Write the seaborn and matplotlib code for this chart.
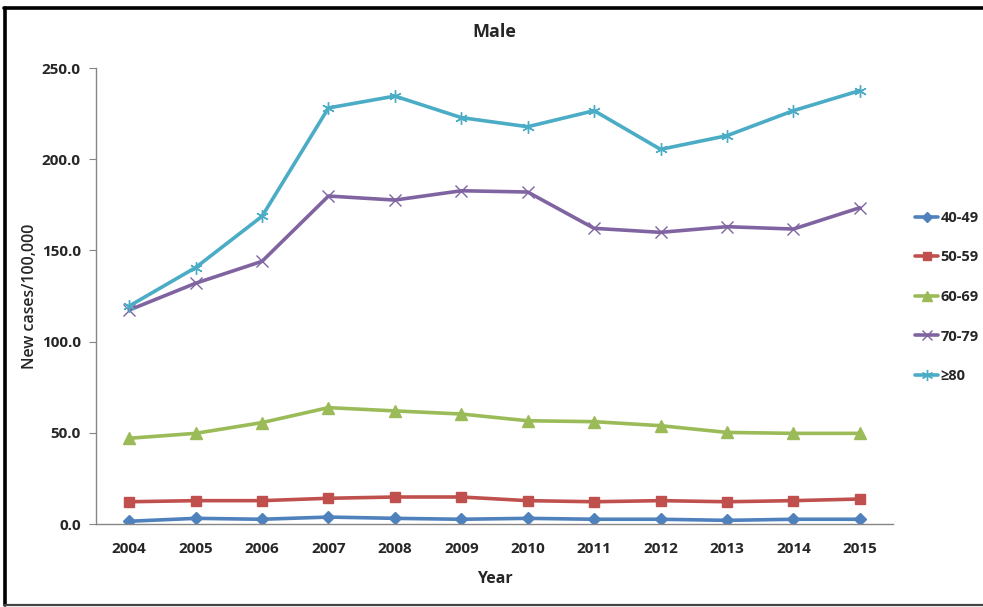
import matplotlib
matplotlib.use("Agg")
import matplotlib.pyplot as plt
import seaborn as sns
import pandas as pd
from matplotlib.lines import Line2D

years = [2004, 2005, 2006, 2007, 2008, 2009, 2010, 2011, 2012, 2013, 2014, 2015]
age_40_49 = [1.5, 3.1, 2.6, 3.8, 3.1, 2.6, 3.1, 2.6, 2.6, 2.0, 2.6, 2.6]
age_50_59 = [12.2, 12.8, 12.8, 14.1, 14.8, 14.8, 12.8, 12.2, 12.8, 12.2, 12.8, 13.7]
age_60_69 = [47.0, 49.7, 55.6, 63.8, 62.0, 60.3, 56.6, 56.1, 53.9, 50.2, 49.7, 49.7]
age_70_79 = [117.3, 132.0, 144.0, 179.8, 177.6, 182.7, 182.0, 162.1, 159.9, 163.0, 161.7, 173.4]
age_80_plus = [119.5, 140.6, 168.7, 228.1, 234.6, 222.8, 217.8, 226.6, 205.4, 212.9, 226.6, 237.6]

groups = ["40-49", "50-59", "60-69", "70-79", "≥80"]
series = [age_40_49, age_50_59, age_60_69, age_70_79, age_80_plus]
yticks = [0, 50, 100, 150, 200, 250]

colors = {"40-49": "#4F81BD", "50-59": "#C0504D", "60-69": "#9BBB59",
          "70-79": "#8064A2", "≥80": "#4BACC6"}
markers = {"40-49": "D", "50-59": "s", "60-69": "^", "70-79": "x", "≥80": (6, 2, 0)}
msizes = {"40-49": 6, "50-59": 7, "60-69": 8, "70-79": 8, "≥80": 9}

rows = []
for g, vals in zip(groups, series):
    for i, (yr, v) in enumerate(zip(years, vals)):
        rows.append({"pos": i, "year": yr, "group": g, "value": v})
df = pd.DataFrame(rows)

sns.set_style("white")
fam = ["Open Sans", "DejaVu Sans"]
plt.rcParams["font.family"] = fam

fig = plt.figure(figsize=(9.83, 6.07), dpi=100)
ax = fig.add_axes([96 / 983, 1 - 524 / 607, (893 - 96) / 983, (524 - 68) / 607])

for g in groups:
    sub = df[df["group"] == g]
    sns.lineplot(data=sub, x="pos", y="value", ax=ax, color=colors[g],
                 marker=markers[g], markersize=msizes[g], linewidth=2.6,
                 markeredgecolor=colors[g], markeredgewidth=1.0,
                 legend=False)

ax.set_xlim(-0.5, len(years) - 0.5)
ax.set_ylim(0, 250)
ax.set_xticks(range(len(years)))
ax.set_xticklabels([str(y) for y in years], fontsize=11, fontweight="bold")
ax.set_yticks(yticks)
ax.set_yticklabels([f"{v:.1f}" for v in yticks], fontsize=11, fontweight="bold")
ax.tick_params(axis="y", length=5, color="#868686", left=True, pad=6)
ax.tick_params(axis="x", length=0, pad=13)

for s in ["top", "right"]:
    ax.spines[s].set_visible(False)
for s in ["left", "bottom"]:
    ax.spines[s].set_color("#868686")
    ax.spines[s].set_linewidth(1.0)

ax.set_xlabel("Year", fontsize=11.5, fontweight="bold", labelpad=11)
ax.set_ylabel("New cases/100,000", fontsize=11.5, fontweight="semibold", labelpad=3)
ax.set_title("Male", fontsize=13, fontweight="bold", pad=22)

handles = [Line2D([0], [0], color=colors[g], marker=markers[g], markersize=msizes[g] - 1,
                  linewidth=2.6, markeredgecolor=colors[g]) for g in groups]
fig.legend(handles, groups, loc="center left", bbox_to_anchor=(902 / 983, 1 - 297 / 607),
           frameon=False, handlelength=1.6, handletextpad=0.15, labelspacing=1.75,
           prop={"family": fam, "weight": "bold", "size": 10.5})

# frame: heavy top and left edges, thin dark bottom edge
fig.add_artist(Line2D([4 / 983, 1.0], [1 - 7.5 / 607, 1 - 7.5 / 607],
                      transform=fig.transFigure, color="black", linewidth=2.6))
fig.add_artist(Line2D([5 / 983, 5 / 983], [1 - 7.5 / 607, 2 / 607],
                      transform=fig.transFigure, color="black", linewidth=2.6))
fig.add_artist(Line2D([4 / 983, 1.0], [2 / 607, 2 / 607],
                      transform=fig.transFigure, color="#444444", linewidth=1.6))

fig.savefig("out.png", dpi=100)
